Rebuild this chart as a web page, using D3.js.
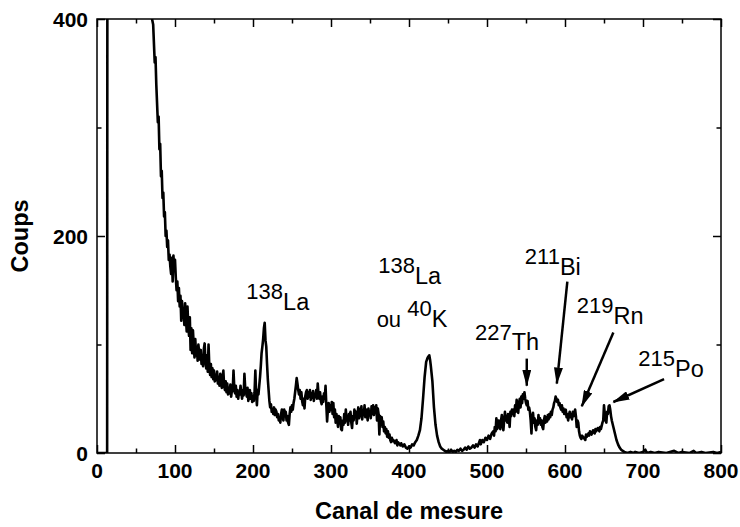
<!DOCTYPE html>
<html>
<head>
<meta charset="utf-8">
<script src="https://cdn.jsdelivr.net/npm/d3@7"></script>
<style>
  body { margin: 0; background: #fff; }
  svg { display: block; font-family: "Liberation Sans", Arial, Helvetica, sans-serif; }
</style>
</head>
<body>
<script>
// Spectrum: [channel, counts]
const spectrum = [
  [0,0],[13,0],[14,1500],[30,900],[50,600],[65,450],[70,402],[72,395],[74,360],[75,365],[76,340],[78,305],[79,310],
  [80,280],[81,285],[82,255],[83,260],[84,235],[85,240],[86,218],[87,222],[88,200],[89,205],[90,190],[91,196],[92,178],
  [93,183],[94,172],[95,165],[96,180],[97,158],[98,182],[99,170],[100,178],[101,162],[102,150],[103,158],[104,140],
  [105,152],[106,135],[107,145],[108,122],[109,140],[110,128],[111,130],[112,118],[113,138],[114,125],[115,112],
  [116,135],[117,118],[118,108],[119,125],[120,95],[121,115],[122,92],[123,113],[124,100],[125,88],[126,105],[127,90],
  [128,98],[129,85],[130,100],[131,92],[132,86],[133,95],[134,82],[135,90],[136,80],[137,96],[138,101],[139,85],
  [140,78],[141,90],[142,75],[143,100],[144,80],[145,72],[146,82],[147,70],[148,78],[149,68],[150,76],[151,66],
  [152,72],[153,67],[154,75],[155,64],[156,70],[157,62],[158,73],[159,65],[160,60],[161,70],[162,76],[163,62],
  [164,58],[165,66],[166,56],[167,64],[168,54],[169,60],[170,55],[171,63],[172,52],[173,58],[174,57],[175,76],
  [176,60],[177,55],[178,62],[179,52],[180,58],[181,50],[182,56],[183,54],[184,62],[185,56],[186,50],[187,58],
  [188,53],[189,73],[190,60],[191,56],[192,52],[193,60],[194,48],[195,54],[196,58],[197,50],[198,55],[199,47],
  [200,52],[201,48],[202,56],[203,76],[204,55],[205,44],[206,58],[207,54],[208,62],[209,70],[210,80],[211,92],
  [212,98],[213,105],[214,115],[215,120],[216,104],[217,98],[218,82],[219,68],[220,58],[221,48],[222,42],[223,45],
  [224,38],[225,40],[226,36],[227,42],[228,35],[229,40],[230,38],[231,33],[232,36],[233,30],[234,33],[235,28],
  [236,36],[237,40],[238,34],[239,30],[240,40],[241,34],[242,38],[243,30],[244,34],[245,28],[246,26],[247,36],
  [248,42],[249,38],[250,44],[251,40],[252,46],[253,50],[254,56],[255,62],[256,69],[257,64],[258,58],[259,54],
  [260,58],[261,50],[262,56],[263,48],[264,44],[265,50],[266,41],[267,52],[268,56],[269,58],[270,50],[271,56],
  [272,52],[273,58],[274,49],[275,55],[276,51],[277,57],[278,48],[279,54],[280,52],[281,58],[282,50],[283,64],
  [284,54],[285,50],[286,56],[287,48],[288,45],[289,52],[290,47],[291,55],[292,50],[293,62],[294,44],[295,29],
  [296,40],[297,46],[298,38],[299,44],[300,40],[301,47],[302,36],[303,46],[304,33],[305,40],[306,28],[307,36],
  [308,30],[309,24],[310,34],[311,28],[312,33],[313,22],[314,21],[315,30],[316,26],[317,36],[318,28],[319,40],
  [320,30],[321,34],[322,26],[323,36],[324,30],[325,38],[326,28],[327,23],[328,34],[329,30],[330,40],[331,33],
  [332,38],[333,27],[334,36],[335,42],[336,32],[337,40],[338,34],[339,43],[340,31],[341,38],[342,35],[343,44],
  [344,33],[345,40],[346,36],[347,30],[348,41],[349,35],[350,38],[351,32],[352,43],[353,36],[354,44],[355,35],
  [356,42],[357,38],[358,44],[359,30],[360,41],[361,36],[362,17],[363,34],[364,28],[365,33],[366,24],[367,29],
  [368,20],[369,24],[370,18],[371,22],[372,15],[373,20],[374,14],[375,17],[376,12],[377,10],[378,14],[379,11],
  [380,12],[382,9],[384,12],[385,7],[386,10],[388,8],[389,7],[390,9],[392,6],[394,8],[396,5],[398,4],[400,6],
  [402,5],[404,8],[406,7],[408,10],[410,12],[412,16],[414,21],[416,32],[418,50],[420,70],[422,84],[424,88],
  [426,90],[427,86],[428,80],[430,66],[432,42],[434,26],[436,16],[438,10],[440,6],[442,4],[444,3],[446,2],
  [448,1],[450,2],[452,1],[454,3],[456,1],[458,2],[460,1],[462,3],[464,2],[466,4],[468,2],[470,3],[472,5],
  [474,3],[476,6],[478,4],[480,5],[482,7],[484,5],[486,8],[488,6],[490,10],[491,12],[492,8],[494,12],[496,10],
  [498,14],[500,12],[502,16],[504,13],[506,18],[508,20],[509,16],[510,24],[511,20],[512,32],[513,22],[514,24],
  [515,30],[516,26],[517,22],[518,30],[519,35],[520,26],[521,21],[522,30],[523,38],[524,30],[525,34],[526,28],
  [527,36],[528,32],[529,24],[530,38],[531,34],[532,40],[533,36],[534,40],[535,34],[536,44],[537,38],[538,49],
  [539,42],[540,37],[541,46],[542,50],[543,42],[544,52],[545,46],[546,54],[547,50],[548,56],[549,50],[550,46],
  [551,44],[552,48],[553,40],[554,42],[555,38],[556,30],[557,18],[558,34],[559,37],[560,28],[561,32],[562,24],
  [563,21],[564,30],[565,26],[566,35],[567,28],[568,32],[569,26],[570,30],[571,24],[572,22],[573,30],[574,34],
  [575,28],[576,33],[577,29],[578,35],[579,31],[580,36],[581,33],[582,38],[583,35],[584,40],[585,42],[586,46],
  [587,48],[588,52],[589,50],[590,47],[591,49],[592,44],[593,46],[594,42],[595,40],[596,44],[597,38],[598,41],
  [599,36],[600,38],[601,40],[602,33],[603,36],[604,30],[605,35],[606,38],[607,33],[608,36],[609,31],[610,38],
  [611,34],[612,37],[613,40],[614,34],[615,24],[616,30],[617,28],[618,20],[619,16],[620,14],[621,13],[622,16],
  [624,14],[626,12],[627,17],[628,15],[630,18],[631,16],[632,20],[634,17],[636,21],[638,18],[639,22],[640,20],
  [642,23],[644,20],[645,24],[646,22],[648,28],[649,30],[650,44],[651,36],[652,30],[653,28],[654,38],[655,36],
  [656,43],[657,44],[658,40],[659,34],[660,30],[662,24],[663,21],[664,18],[666,12],[668,8],[670,5],[672,3],
  [674,2],[676,1],[680,0],[684,1],[688,0],[690,1],[695,0],[700,1],[703,3],[705,0],[710,1],[715,0],[720,1],
  [730,0],[740,2],[745,0],[750,1],[760,0],[765,2],[768,0],[775,1],[780,0],[790,1],[795,0],[800,1]
];

const xTickLabels = [0, 100, 200, 300, 400, 500, 600, 700, 800];
const yTickLabels = [0, 200, 400];

// Peak labels: isotope mass, element, where the text starts (channel, counts)
const peakLabels = [
  { pre: "", mass: "138", elem: "La", ch: 191.5, n: 132 },
  { pre: "", mass: "138", elem: "La", ch: 360.5, n: 156 },
  { pre: "ou ", mass: "40", elem: "K", ch: 358.5, n: 116.5 },
  { pre: "", mass: "227", elem: "Th", ch: 484.5, n: 94.5 },
  { pre: "", mass: "211", elem: "Bi", ch: 548.5, n: 164.5 },
  { pre: "", mass: "219", elem: "Rn", ch: 615, n: 119 },
  { pre: "", mass: "215", elem: "Po", ch: 694, n: 70.5 }
];

// Arrows: [fromChannel, fromCounts, toChannel, toCounts]
const arrows = [
  [551, 87, 551, 62],
  [603, 158, 589.5, 64],
  [662, 111, 621.5, 43],
  [727, 68, 662, 47]
];

const width = 740;
const height = 527;
const margin = { top: 19, right: 19, bottom: 74, left: 97 };

const x = d3.scaleLinear().domain([0, 800]).range([margin.left, width - margin.right]);
const y = d3.scaleLinear().domain([0, 400]).range([height - margin.bottom, margin.top]);

const svg = d3.select("body").append("svg")
  .attr("width", width)
  .attr("height", height);

const defs = svg.append("defs");
defs.append("clipPath").attr("id", "plot")
  .append("rect")
  .attr("x", x(0)).attr("y", y(400))
  .attr("width", x(800) - x(0)).attr("height", y(0) - y(400));

defs.append("marker")
  .attr("id", "head")
  .attr("viewBox", "0 0 17 9")
  .attr("refX", 16).attr("refY", 4.5)
  .attr("markerWidth", 17).attr("markerHeight", 9)
  .attr("markerUnits", "userSpaceOnUse")
  .attr("orient", "auto")
  .append("path")
  .attr("d", "M0,0L17,4.5L0,9Z")
  .attr("fill", "#000");

// spectrum trace
const line = d3.line().x((d) => x(d[0])).y((d) => y(d[1]));
svg.append("path")
  .datum(spectrum)
  .attr("clip-path", "url(#plot)")
  .attr("fill", "none")
  .attr("stroke", "#000")
  .attr("stroke-width", 2.6)
  .attr("stroke-linejoin", "round")
  .attr("d", line);

// axes: ticks on all four sides, pointing inwards
const tickSize = (v, step) => (v % step === 0 ? 8 : 4.5);
const xTicks = d3.range(0, 801, 50);
const yTicks = d3.range(0, 401, 100);

svg.append("g")
  .attr("transform", `translate(0,${y(0)})`)
  .call(d3.axisBottom(x).tickValues(xTicks).tickSize(0).tickFormat(""))
  .call((g) => g.selectAll(".tick line").attr("y2", (d) => -tickSize(d, 100)));
svg.append("g")
  .attr("transform", `translate(0,${y(400)})`)
  .call(d3.axisTop(x).tickValues(xTicks).tickSize(0).tickFormat(""))
  .call((g) => g.selectAll(".tick line").attr("y2", (d) => tickSize(d, 100)));
svg.append("g")
  .attr("transform", `translate(${x(0)},0)`)
  .call(d3.axisLeft(y).tickValues(yTicks).tickSize(0).tickFormat(""))
  .call((g) => g.selectAll(".tick line").attr("x2", (d) => tickSize(d, 200)));
svg.append("g")
  .attr("transform", `translate(${x(800)},0)`)
  .call(d3.axisRight(y).tickValues(yTicks).tickSize(0).tickFormat(""))
  .call((g) => g.selectAll(".tick line").attr("x2", (d) => -tickSize(d, 200)));

svg.selectAll(".domain").remove();
svg.selectAll(".tick line").attr("stroke", "#000").attr("stroke-width", 1.5);

svg.append("rect")
  .attr("x", x(0)).attr("y", y(400))
  .attr("width", x(800) - x(0)).attr("height", y(0) - y(400))
  .attr("fill", "none")
  .attr("stroke", "#000")
  .attr("stroke-width", 1.5);

// tick labels
svg.append("g")
  .selectAll("text")
  .data(xTickLabels)
  .join("text")
  .attr("x", (d) => x(d))
  .attr("y", y(0) + 25)
  .attr("text-anchor", "middle")
  .attr("font-size", 21)
  .attr("font-weight", "bold")
  .text((d) => d);

svg.append("g")
  .selectAll("text")
  .data(yTickLabels)
  .join("text")
  .attr("x", x(0) - 9)
  .attr("y", (d) => y(d) + 7.5)
  .attr("text-anchor", "end")
  .attr("font-size", 21)
  .attr("font-weight", "bold")
  .text((d) => d);

// axis titles
svg.append("text")
  .attr("x", (x(0) + x(800)) / 2)
  .attr("y", 519)
  .attr("text-anchor", "middle")
  .attr("font-size", 23.5)
  .attr("font-weight", "bold")
  .text("Canal de mesure");

svg.append("text")
  .attr("transform", `translate(28,${y(200)}) rotate(-90)`)
  .attr("text-anchor", "middle")
  .attr("font-size", 23.5)
  .attr("font-weight", "bold")
  .text("Coups");

// peak annotations
const labels = svg.append("g")
  .selectAll("text")
  .data(peakLabels)
  .join("text")
  .attr("x", (d) => x(d.ch))
  .attr("y", (d) => y(d.n))
  .attr("font-size", 22);

labels.append("tspan").text((d) => d.pre);
labels.append("tspan").attr("dy", -10.5).text((d) => d.mass);
labels.append("tspan").attr("dy", 10.5).attr("font-size", 23.5).text((d) => d.elem);

svg.append("g")
  .selectAll("line")
  .data(arrows)
  .join("line")
  .attr("x1", (d) => x(d[0]))
  .attr("y1", (d) => y(d[1]))
  .attr("x2", (d) => x(d[2]))
  .attr("y2", (d) => y(d[3]))
  .attr("stroke", "#000")
  .attr("stroke-width", 2.5)
  .attr("marker-end", "url(#head)");
</script>
</body>
</html>
